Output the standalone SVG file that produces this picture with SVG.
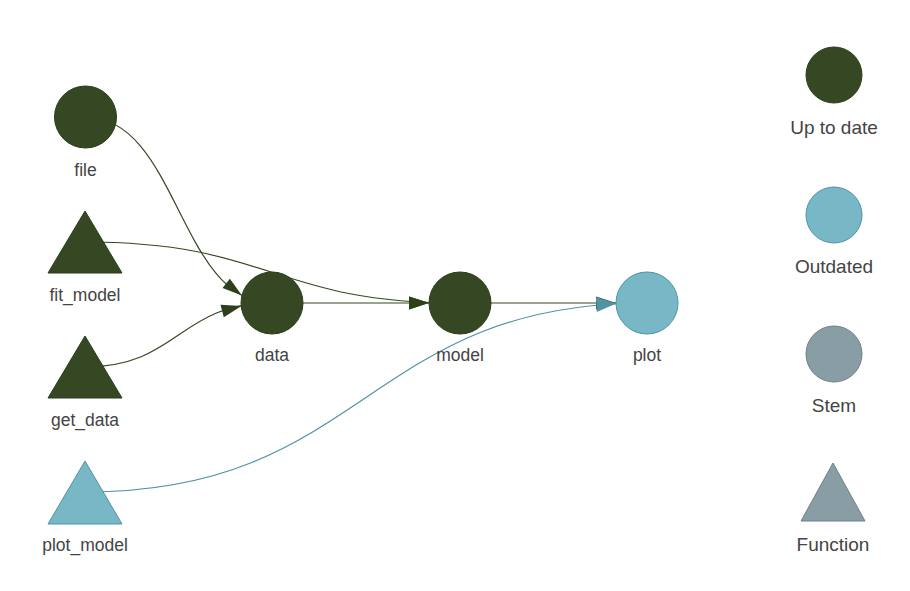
<svg xmlns="http://www.w3.org/2000/svg" width="910" height="591" viewBox="0 0 910 591">
<style>
.lbl{font-family:"Liberation Sans",Arial,sans-serif;font-size:17.5px;fill:#444444;text-anchor:middle}
.leg{font-family:"Liberation Sans",Arial,sans-serif;font-size:19px;fill:#444444;text-anchor:middle}
.up{fill:#354823;stroke:#2b3c1b;stroke-width:1}
.out{fill:#78b7c5;stroke:#4f93a5;stroke-width:1}
.stem{fill:#899da4;stroke:#6c8088;stroke-width:1}
.eg{fill:none;stroke:#354823;stroke-width:1.2}
.et{fill:none;stroke:#4f93a5;stroke-width:1.2}
.ag{fill:#2e4019}
.at{fill:#4f93a5}
</style>
<rect width="910" height="591" fill="#ffffff"/>
<g id="edges">
<path class="eg" d="M85,117 C178.5,117 178.5,303 272,303"/>
<path class="eg" d="M85,242 C272.5,242 272.5,303 460,303"/>
<path class="eg" d="M85,367 C178.5,367 178.5,303 272,303"/>
<path class="et" d="M85,492 C366,492 366,303 647,303"/>
<path class="eg" d="M272,303 L460,303"/>
<path class="eg" d="M460,303 L647,303"/>
<polygon class="ag" points="242,295.6 222.5,288.1 229.9,278.7"/>
<polygon class="ag" points="241.5,306 223.8,317.3 220.5,304.7"/>
<polygon class="ag" points="429,302.7 409,309.5 409,296.5"/>
<polygon class="ag" points="429,303 409,309.5 409,296.5"/>
<polygon class="ag" points="616,303 596,309.5 596,296.5"/>
<polygon class="at" points="616.3,303.4 596.8,312.1 595.9,297.1"/>
</g>
<g id="node-file"><circle class="up" cx="85.5" cy="117" r="31"/><text class="lbl" x="85.5" y="176">file</text></g>
<g id="node-fit_model"><polygon class="up" points="85,211 122,273 48,273"/><text class="lbl" x="85" y="301">fit_model</text></g>
<g id="node-get_data"><polygon class="up" points="85,336 122,398 48,398"/><text class="lbl" x="85" y="426">get_data</text></g>
<g id="node-plot_model"><polygon class="out" points="85,461 122,524 48,524"/><text class="lbl" x="85" y="551">plot_model</text></g>
<g id="node-data"><circle class="up" cx="272" cy="303" r="31"/><text class="lbl" x="272" y="361">data</text></g>
<g id="node-model"><circle class="up" cx="460" cy="303" r="31"/><text class="lbl" x="460" y="361">model</text></g>
<g id="node-plot"><circle class="out" cx="647" cy="303" r="31"/><text class="lbl" x="647" y="361">plot</text></g>
<g id="legend-uptodate"><circle class="up" cx="834" cy="75" r="28"/><text class="leg" x="834" y="134">Up to date</text></g>
<g id="legend-outdated"><circle class="out" cx="834" cy="215" r="28"/><text class="leg" x="834" y="273">Outdated</text></g>
<g id="legend-stem"><circle class="stem" cx="834" cy="354" r="28"/><text class="leg" x="834" y="412">Stem</text></g>
<g id="legend-function"><polygon class="stem" points="833,463 865,521 801,521"/><text class="leg" x="833" y="551">Function</text></g>
</svg>
